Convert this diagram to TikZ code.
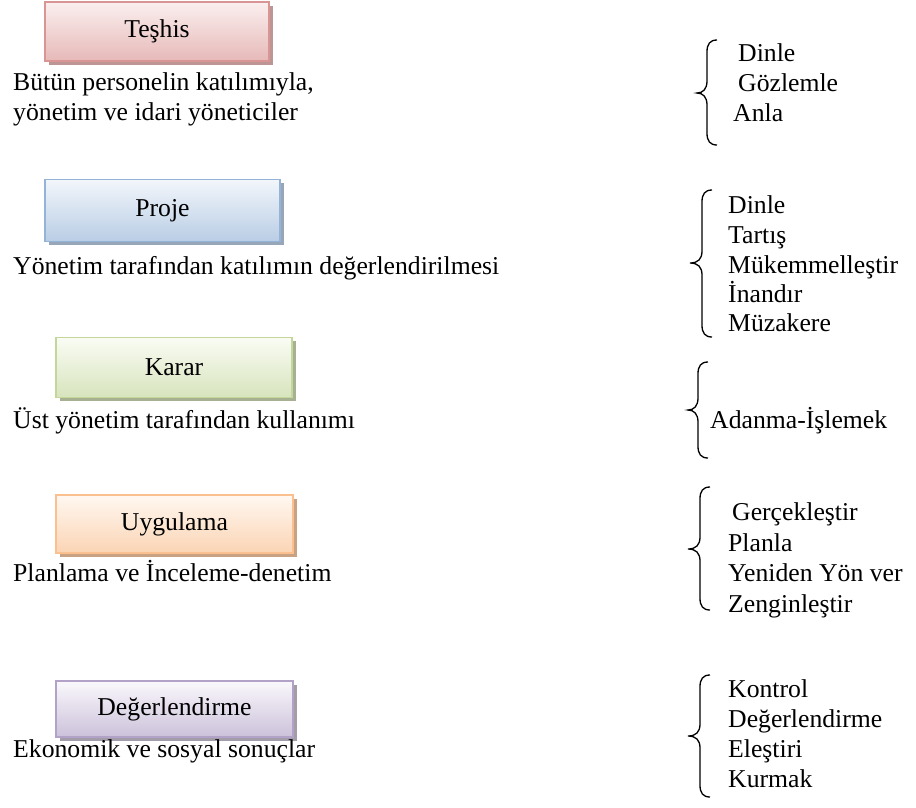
\documentclass[tikz,border=0pt]{standalone}
\usepackage{fontspec}
\setmainfont{Liberation Serif}
\usetikzlibrary{shadows}
\definecolor{tbd}{HTML}{D99594}\definecolor{ttp}{HTML}{FBEFEF}\definecolor{tbt}{HTML}{E6B9B8}\definecolor{tsh}{HTML}{BE9595}
\definecolor{pbd}{HTML}{95B3D7}\definecolor{ptp}{HTML}{F2F6FB}\definecolor{pbt}{HTML}{B9CDE5}\definecolor{psh}{HTML}{98A6BA}
\definecolor{kbd}{HTML}{C3D69B}\definecolor{ktp}{HTML}{FAFCF4}\definecolor{kbt}{HTML}{D7E4BD}\definecolor{ksh}{HTML}{A8B092}
\definecolor{ubd}{HTML}{FAC08F}\definecolor{utp}{HTML}{FFF8F1}\definecolor{ubt}{HTML}{FBD4B4}\definecolor{ush}{HTML}{C9A283}
\definecolor{dbd}{HTML}{B2A2C7}\definecolor{dtp}{HTML}{FAF8FC}\definecolor{dbt}{HTML}{CCC1DA}\definecolor{dsh}{HTML}{A39DAA}
\newcommand\mybrace[5]{% vx, top, mid, bot, tipx
  \draw[brc] (#1+10,#2) .. controls (#1+3,#2) and (#1,#2+4) .. (#1,#2+12) -- (#1,#3-12)
    .. controls (#1,#3-4) and (#1-4,#3) .. (#5,#3)
    .. controls (#1-4,#3) and (#1,#3+4) .. (#1,#3+12) -- (#1,#4-12)
    .. controls (#1,#4-4) and (#1+3,#4) .. (#1+10,#4);}
\tikzset{
  txt/.style={anchor=base west, inner sep=0pt, font=\fontsize{25.7}{30}\selectfont},
  box/.style n args={4}{draw=#1, line width=1.5pt, top color=#2, bottom color=#3,
    general shadow={shadow xshift=3.5pt, shadow yshift=-3.5pt, fill=#4},
    inner sep=0pt, font=\fontsize{25.7}{30}\selectfont},
  brc/.style={line width=1.3pt, black}
}
\begin{document}
\begin{tikzpicture}[x=1pt,y=-1pt]
\useasboundingbox (0,0) rectangle (916,807);
% boxes
\node[box={tbd}{ttp}{tbt}{tsh}, minimum width=224pt, minimum height=59pt] (teshis) at (157,31.5) {Teşhis};
\node[box={pbd}{ptp}{pbt}{psh}, minimum width=235pt, minimum height=62pt] (proje) at (162.5,210.5) {Proje};
\node[box={kbd}{ktp}{kbt}{ksh}, minimum width=236pt, minimum height=60pt] (karar) at (174,367.5) {Karar};
\node[box={ubd}{utp}{ubt}{ush}, minimum width=237pt, minimum height=58pt] (uyg) at (174.5,524) {Uygulama};
\node[box={dbd}{dtp}{dbt}{dsh}, minimum width=237pt, minimum height=56pt] (deg) at (174.5,709) {Değerlendirme};
% left texts
\node[txt] (l1a) at (13,90) {Bütün personelin katılımıyla,};
\node[txt] (l1b) at (13,120) {yönetim ve idari yöneticiler};
\node[txt] (l2) at (13,274) {Yönetim tarafından katılımın değerlendirilmesi};
\node[txt] (l3) at (13,428) {Üst yönetim tarafından kullanımı};
\node[txt] (l4) at (13,581) {Planlama ve İnceleme-denetim};
\node[txt] (l5) at (13,757) {Ekonomik ve sosyal sonuçlar};
% right lists
\mybrace{707}{40}{93}{145}{697}
\node[txt] (r1a) at (738,61) {Dinle};
\node[txt] (r1b) at (738,91) {Gözlemle};
\node[txt] (r1c) at (733,121) {Anla};
\mybrace{702}{190}{263}{337}{690}
\node[txt] (r2a) at (728,213) {Dinle};
\node[txt] (r2b) at (728,243) {Tartış};
\node[txt] (r2c) at (728,273) {Mükemmelleştir};
\node[txt] (r2d) at (728,302) {İnandır};
\node[txt] (r2e) at (728,331) {Müzakere};
\mybrace{698}{362}{410}{458}{688}
\node[txt] (r3a) at (710,428) {Adanma-İşlemek};
\mybrace{700}{487}{549}{610}{688}
\node[txt] (r4a) at (732,520) {Gerçekleştir};
\node[txt] (r4b) at (728,551) {Planla};
\node[txt] (r4c) at (728,581) {Yeniden Yön ver};
\node[txt] (r4d) at (728,612) {Zenginleştir};
\mybrace{700}{675}{736}{797}{688}
\node[txt] (r5a) at (728,697) {Kontrol};
\node[txt] (r5b) at (728,727) {Değerlendirme};
\node[txt] (r5c) at (728,757) {Eleştiri};
\node[txt] (r5d) at (728,787) {Kurmak};
\end{tikzpicture}
\end{document}
